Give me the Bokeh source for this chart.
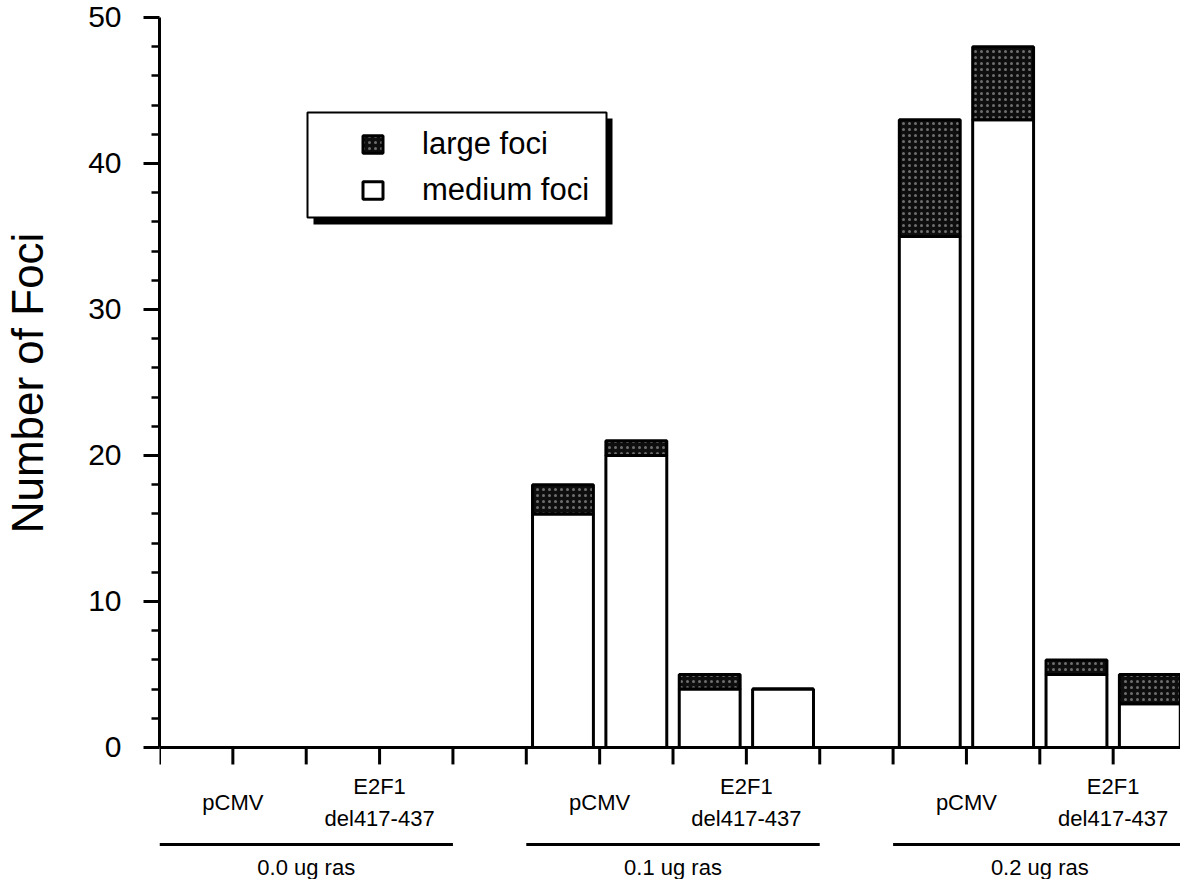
from bokeh.plotting import figure
from bokeh.layouts import column
from bokeh.models import (FixedTicker, Span, BoxAnnotation, Legend, LegendItem,
                          ColumnDataSource, Range1d)
from bokeh.transform import stack
from bokeh.core.properties import value
from bokeh.embed import file_html
from bokeh.resources import INLINE

# ---- data ----
groups = ["0.0 ug ras", "0.1 ug ras", "0.2 ug ras"]
constructs = ["pCMV", "E2F1\ndel417-437"]
bars_per_group = 4
medium_foci = [0, 0, 0, 0, 16, 20, 4, 4, 35, 43, 5, 3]
large_foci = [0, 0, 0, 0, 2, 1, 1, 0, 8, 5, 1, 2]
y_ticks = [0, 10, 20, 30, 40, 50]
y_minor = list(range(2, 50, 2))
y_title = "Number of Foci"

FONT = "Liberation Sans"
slot = bars_per_group + 1
xs = [g * slot + j + 0.5 for g in range(len(groups)) for j in range(bars_per_group)]
tick_x = list(range(len(groups) * slot))

W = 1180
H1, H2 = 765, 114
xr = Range1d(0, 13.918)

# ---------------- main plot ----------------
p = figure(width=W, height=H1, output_backend="svg", toolbar_location=None,
           x_range=xr, y_range=Range1d(-1.233, 51.16), x_axis_location=None,
           min_border_left=157, min_border_right=0, min_border_top=0, min_border_bottom=0)
p.outline_line_color = None
p.grid.visible = False

src = ColumnDataSource(dict(x=xs, medium=medium_foci, large=large_foci))
r_med = p.vbar(x="x", width=0.83, bottom=0, top=stack("medium"), source=src,
               fill_color="white", line_color="black", line_width=3)
r_lrg = p.vbar(x="x", width=0.83, bottom=stack("medium"), top=stack("medium", "large"),
               source=src, fill_color="#0e0e0e", line_color="black", line_width=3,
               hatch_pattern="dot", hatch_color="#6e6e6e", hatch_scale=6, hatch_weight=1)

p.add_layout(Span(location=0, dimension="width", line_color="black", line_width=3))
p.segment(x0=tick_x, x1=tick_x, y0=0, y1=-1.16, line_color="black", line_width=3)

ax = p.yaxis[0]
ax.ticker = FixedTicker(ticks=y_ticks, minor_ticks=y_minor)
ax.bounds = (0, 50)
ax.axis_line_width = 3
ax.axis_line_color = "black"
ax.major_tick_line_width = 3
ax.minor_tick_line_width = 2.5
ax.major_tick_line_color = "black"
ax.minor_tick_line_color = "black"
ax.major_tick_out = 16
ax.major_tick_in = 0
ax.minor_tick_out = 8
ax.minor_tick_in = 0
ax.major_label_text_font = FONT
ax.major_label_text_font_size = "30px"
ax.major_label_text_color = "black"
ax.major_label_standoff = 22
ax.axis_label = y_title
ax.axis_label_text_font = FONT
ax.axis_label_text_font_size = "44px"
ax.axis_label_text_font_style = "normal"
ax.axis_label_text_color = "black"
ax.axis_label_standoff = 33

# legend box with drop shadow (screen units measured from the frame's bottom-left)
scr = dict(left_units="screen", right_units="screen", top_units="screen", bottom_units="screen")
p.add_layout(BoxAnnotation(left=154, right=453, top=647, bottom=541, fill_color="black",
                           fill_alpha=1, line_color=None, **scr))
p.add_layout(BoxAnnotation(left=148, right=447, top=653, bottom=548, fill_color="white",
                           fill_alpha=1, line_color="black", line_alpha=1, line_width=2, **scr))
legend = Legend(items=[LegendItem(label="large foci", renderers=[r_lrg]),
                       LegendItem(label="medium foci", renderers=[r_med])],
                location=(201, 557), glyph_width=25, glyph_height=22, label_standoff=37,
                spacing=10, padding=0, margin=0, label_text_font=FONT,
                label_text_font_size="31px", label_text_color="black",
                background_fill_alpha=0, border_line_alpha=0)
p.add_layout(legend)

# ---------------- category / group labels below ----------------
q = figure(width=W, height=H2, output_backend="svg", toolbar_location=None,
           x_range=xr, y_range=Range1d(-H2, 0), x_axis_location=None, y_axis_location=None,
           min_border_left=157, min_border_right=0, min_border_top=0, min_border_bottom=0)
q.outline_line_color = None
q.grid.visible = False

cat_x = [g * slot + 2 * k + 1 for g in range(len(groups)) for k in range(len(constructs))]
cat_t = constructs * len(groups)
q.text(x=cat_x, y=-37, text=cat_t, text_align="center", text_baseline="middle",
       text_font=value(FONT), text_font_size="22px", text_line_height=1.3, text_color="black")

gx0 = [g * slot for g in range(len(groups))]
gx1 = [g * slot + bars_per_group for g in range(len(groups))]
q.segment(x0=gx0, x1=gx1, y0=-79, y1=-79, line_color="black", line_width=3)
gxc = [g * slot + bars_per_group / 2 for g in range(len(groups))]
q.text(x=gxc, y=-102, text=groups, text_align="center", text_baseline="middle",
       text_font=value(FONT), text_font_size="22px", text_color="black")

layout = column(p, q, spacing=0)
open("out.html", "w").write(file_html(layout, INLINE))
